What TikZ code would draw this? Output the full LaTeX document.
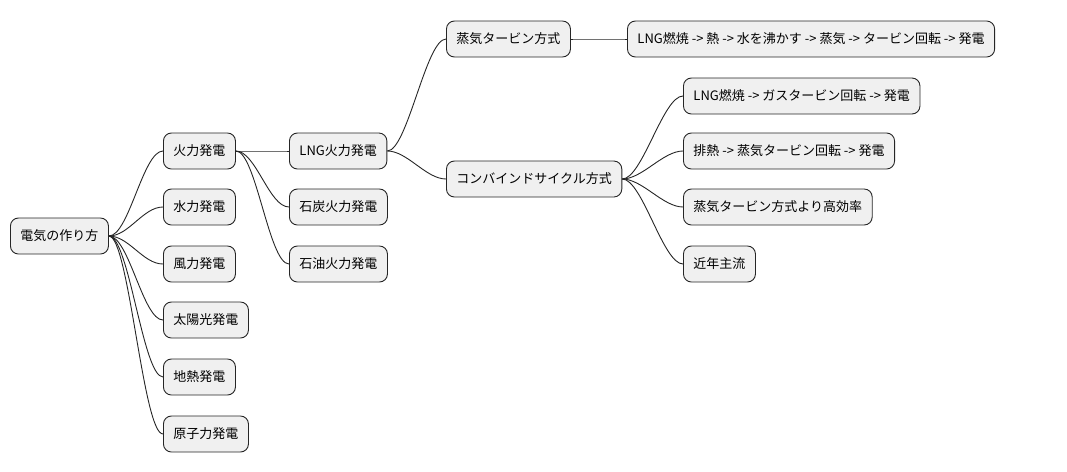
\documentclass[tikz,border=0pt]{standalone}
\usepackage{fontspec}
\setmainfont{Noto Sans CJK JP}
\begin{document}
\begin{tikzpicture}[x=1pt,y=-1pt,
  box/.style={draw=black!85,fill=black!6,rounded corners=8pt,minimum height=36pt,inner xsep=10pt,line width=0.9pt,font=\fontsize{13}{15}\selectfont,anchor=west},
  link/.style={draw=black!85,line width=0.9pt}]
\useasboundingbox (0,0) rectangle (1067,471);
\node[box] (r) at (10,236) {電気の作り方};
\node[box] (a1) at (163,151) {火力発電};
\node[box] (a2) at (163,207) {水力発電};
\node[box] (a3) at (163,264) {風力発電};
\node[box] (a4) at (163,320) {太陽光発電};
\node[box] (a5) at (163,377) {地熱発電};
\node[box] (a6) at (163,434) {原子力発電};
\node[box] (b1) at (289,151) {LNG火力発電};
\node[box] (b2) at (289,207) {石炭火力発電};
\node[box] (b3) at (289,264) {石油火力発電};
\node[box] (c1) at (446,39) {蒸気タービン方式};
\node[box] (c2) at (446,179) {コンバインドサイクル方式};
\node[box] (d1) at (627,39) {LNG燃焼 -> 熱 -> 水を沸かす -> 蒸気 -> タービン回転 -> 発電};
\node[box] (e1) at (683,96) {LNG燃焼 -> ガスタービン回転 -> 発電};
\node[box] (e2) at (683,151) {排熱 -> 蒸気タービン回転 -> 発電};
\node[box] (e3) at (683,207) {蒸気タービン方式より高効率};
\node[box] (e4) at (683,264) {近年主流};
\foreach \p/\c in {r/a1,r/a2,r/a3,r/a4,r/a5,r/a6,a1/b1,a1/b2,a1/b3,b1/c1,b1/c2,c1/d1,c2/e1,c2/e2,c2/e3,c2/e4}
  \draw[link] (\p.east) .. controls +(20,0) and +(-20,0) .. (\c.west);
\end{tikzpicture}
\end{document}
